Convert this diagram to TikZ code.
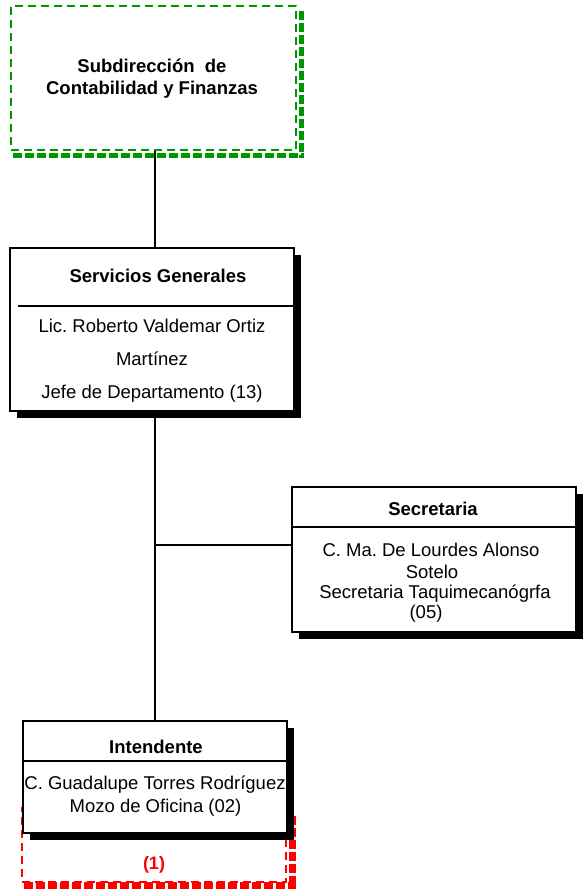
\documentclass[tikz,border=0pt]{standalone}
\usepackage{fontspec}
\setmainfont{Liberation Sans}
\usetikzlibrary{shadows}
\definecolor{verde}{RGB}{0,150,0}
\tikzset{caja/.style={draw,line width=1.8pt,fill=white,inner sep=0pt,
    drop shadow={shadow xshift=7pt,shadow yshift=-7pt,opacity=1,fill=black}},
  rayada/.style={draw,line width=2pt,dash pattern=on 8pt off 5pt,fill=white,inner sep=0pt},
  sombra/.style={line width=5.5pt,dash pattern=on 9pt off 3pt}}

\begin{document}
\frenchspacing
\begin{tikzpicture}[x=1pt,y=-1pt,
    txt/.style={anchor=base,inner sep=0pt,font=\fontsize{18.5}{21}\selectfont},
    tit/.style={txt,font=\fontsize{18.5}{21}\selectfont\bfseries}]
  \useasboundingbox (0,0) rectangle (583,890);
  % subdireccion (punteada verde)
  \node[rayada,draw=verde,minimum width=285pt,minimum height=144pt] (sub) at (153.5,78) {};
  \draw[sombra,verde] ([shift={(4.5,6)}]sub.north east) -- ([shift={(4.5,7)}]sub.south east);
  \draw[sombra,verde] ([shift={(3,4.5)}]sub.south west) -- ([shift={(7,4.5)}]sub.south east);
  \node[tit] (sub1) at (152,73) {Subdirección\ \ de};
  \node[tit] (sub2) at (152,95) {Contabilidad y Finanzas};
  % lineas
  \coordinate (eje) at (155,0); \coordinate (rama) at (155,545);
  \draw[line width=1.8pt] (eje |- sub.south) -- (eje |- 0,248);
  \draw[line width=1.8pt] (eje |- 0,411) -- (eje |- 0,721);
  % servicios generales
  \node[caja,minimum width=284pt,minimum height=163pt] (serv) at (152,329.5) {};
  \draw[line width=1.8pt] ([shift={(9,-23.5)}]serv.west) -- ([shift={(0,-23.5)}]serv.east);
  \node[tit] (serv0) at (158,282) {Servicios Generales};
  \node[txt] (serv1) at (152,332) {Lic. Roberto Valdemar Ortiz};
  \node[txt] (serv2) at (152,365) {Martínez};
  \node[txt] (serv3) at (152,398) {Jefe de Departamento (13)};
  % secretaria
  \node[caja,minimum width=284pt,minimum height=145pt] (secr) at (434,559.5) {};
  \draw[line width=1.8pt] (rama) -- (rama -| secr.west);
  \draw[line width=1.8pt] ([yshift=32.5pt]secr.west) -- ([yshift=32.5pt]secr.east);
  \node[tit] (secr0) at (433,515) {Secretaria};
  \node[txt] (secr1) at (431,556) {C. Ma. De Lourdes Alonso};
  \node[txt] (secr2) at (432,578) {Sotelo};
  \node[txt] (secr3) at (435,598) {Secretaria Taquimecanógrfa};
  \node[txt] (secr4) at (426,618) {(05)};
  % nota (punteada roja)
  \node[rayada,draw=red,minimum width=264pt,minimum height=74pt] (nota) at (154,845) {};
  \draw[sombra,red,line width=6.5pt] ([shift={(5.5,9)}]nota.north east) -- ([shift={(5.5,6)}]nota.south east);
  \draw[sombra,red,line width=6.5pt] ([shift={(3,2.5)}]nota.south west) -- ([shift={(8.5,2.5)}]nota.south east);
  \node[tit,red,font=\fontsize{18}{21}\selectfont\bfseries] (nota1) at (154,869) {(1)};
  % intendente
  \node[caja,minimum width=264pt,minimum height=112pt] (int) at (155,777) {};
  \draw[line width=1.8pt] ([yshift=16pt]int.west) -- ([yshift=16pt]int.east);
  \node[tit] (int0) at (156,753) {Intendente};
  \node[txt] (int1) at (155,789) {C. Guadalupe Torres Rodríguez};
  \node[txt] (int2) at (155.5,812) {Mozo de Oficina (02)};
\end{tikzpicture}
\end{document}
